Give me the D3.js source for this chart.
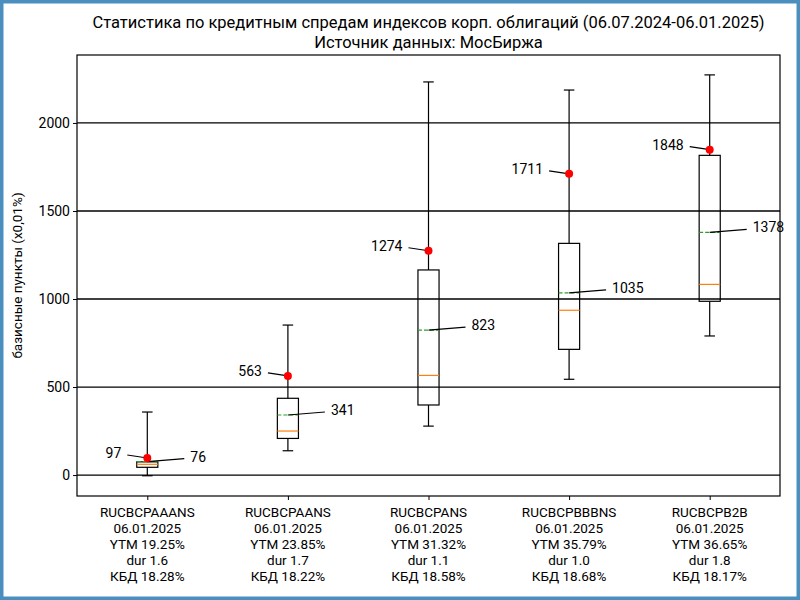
<!DOCTYPE html>
<html><head><meta charset="utf-8">
<script src="https://cdn.jsdelivr.net/npm/d3@7"></script>
<style>
html,body{margin:0;padding:0;background:#fff;}
svg{display:block;}
text{font-family:"Roboto",sans-serif;fill:#000;}
</style></head>
<body>
<svg id="chart" width="800" height="600"></svg>
<script>
const categories = ["RUCBCPAAANS","RUCBCPAANS","RUCBCPANS","RUCBCPBBBNS","RUCBCPB2B"];
const dates = ["06.01.2025","06.01.2025","06.01.2025","06.01.2025","06.01.2025"];
const ytm = ["YTM 19.25%","YTM 23.85%","YTM 31.32%","YTM 35.79%","YTM 36.65%"];
const dur = ["dur 1.6","dur 1.7","dur 1.1","dur 1.0","dur 1.8"];
const kbd = ["КБД 18.28%","КБД 18.22%","КБД 18.58%","КБД 18.68%","КБД 18.17%"];
const whiskerLow = [-4, 138, 278, 544, 790];
const q1 = [44, 208, 398, 714, 987];
const median = [61, 250, 566, 936, 1083];
const mean = [76, 341, 823, 1035, 1378];
const q3 = [75, 436, 1165, 1316, 1816];
const whiskerHigh = [358, 852, 2233, 2187, 2273];
const current = [97, 563, 1274, 1711, 1848];
const yTicks = [0, 500, 1000, 1500, 2000];
const title1 = "Статистика по кредитным спредам индексов корп. облигаций (06.07.2024-06.01.2025)";
const title2 = "Источник данных: МосБиржа";
const yLabel = "базисные пункты (x0,01%)";

const svg = d3.select("#chart");
const L = 77, R = 780, T = 55, B = 496;
svg.append("rect").attr("x",1.75).attr("y",1.75).attr("width",796.5).attr("height",596.5)
  .attr("fill","#fff").attr("stroke","#4b8fbf").attr("stroke-width",3.5);

const x = d3.scaleLinear().domain([0.5, 5.5]).range([L, R]);
const y = d3.scaleLinear().domain([-119, 2386]).range([B, T]);
const bw = (x(1.075) - x(0.925));

const g = svg.append("g");
g.selectAll(".grid").data(yTicks).join("line")
  .attr("x1",L).attr("x2",R).attr("y1",d=>y(d)).attr("y2",d=>y(d))
  .attr("stroke","#000").attr("stroke-width",1.3);

const yAxis = d3.axisLeft(y).tickValues(yTicks).tickSize(4).tickPadding(3).tickFormat(d3.format("d"));
const ya = svg.append("g").attr("transform",`translate(${L},0)`).call(yAxis);
ya.select(".domain").remove();
ya.selectAll("text").attr("font-size","14px").style("font-family",'"Roboto",sans-serif');
ya.selectAll("line").attr("stroke","#000");

const xAxis = d3.axisBottom(x).tickValues([1,2,3,4,5]).tickSize(4).tickFormat("");
const xa = svg.append("g").attr("transform",`translate(0,${B})`).call(xAxis);
xa.select(".domain").remove();
const lines = [categories, dates, ytm, dur, kbd];
categories.forEach((c,i)=>{
  const t = svg.append("text").attr("text-anchor","middle").attr("font-size","13.5px");
  lines.forEach((arr,k)=>{
    t.append("tspan").attr("x",x(i+1)).attr("y",517 + k*16).text(arr[i]);
  });
});

const idx = d3.range(5);
const bg = svg.append("g");
idx.forEach(i=>{
  const cx = x(i+1);
  const gg = bg.append("g");
  const ln = (x1,y1,x2,y2,c)=>gg.append("line").attr("x1",x1).attr("y1",y1).attr("x2",x2).attr("y2",y2).attr("stroke",c||"#000").attr("stroke-width",1.2);
  ln(cx,y(whiskerHigh[i]),cx,y(q3[i]));
  ln(cx,y(q1[i]),cx,y(whiskerLow[i]));
  ln(cx-bw/4,y(whiskerHigh[i]),cx+bw/4,y(whiskerHigh[i]));
  ln(cx-bw/4,y(whiskerLow[i]),cx+bw/4,y(whiskerLow[i]));
  gg.append("rect").attr("x",cx-bw/2).attr("y",y(q3[i])).attr("width",bw).attr("height",y(q1[i])-y(q3[i]))
    .attr("fill","none").attr("stroke","#000").attr("stroke-width",1.2);
  ln(cx-bw/2,y(median[i]),cx+bw/2,y(median[i]),"#ff7f0e");
  ln(cx-bw/2,y(mean[i]),cx+bw/2,y(mean[i]),"#2ca02c").attr("stroke-dasharray","4,2");
  ln(cx,y(mean[i]),cx+37,y(mean[i])-3);
  gg.append("text").attr("x",cx+43).attr("y",y(mean[i])-5).attr("dy","0.35em").attr("font-size","14px").text(mean[i]);
  ln(cx-20,y(current[i])-3,cx,y(current[i]));
  gg.append("circle").attr("cx",cx).attr("cy",y(current[i])).attr("r",4).attr("fill","#ff0000");
  gg.append("text").attr("x",cx-26).attr("y",y(current[i])-5).attr("dy","0.35em").attr("text-anchor","end").attr("font-size","14px").text(current[i]);
});

svg.append("rect").attr("x",L).attr("y",T).attr("width",R-L).attr("height",B-T).attr("fill","none").attr("stroke","#000").attr("stroke-width",1.2);

svg.append("text").attr("x",(L+R)/2).attr("y",28).attr("text-anchor","middle").attr("font-size","16.5px").text(title1);
svg.append("text").attr("x",(L+R)/2).attr("y",48).attr("text-anchor","middle").attr("font-size","16.5px").text(title2);
svg.append("text").attr("transform",`translate(22,${(T+B)/2}) rotate(-90)`).attr("text-anchor","middle").attr("font-size","13.5px").text(yLabel);
</script>
</body></html>
